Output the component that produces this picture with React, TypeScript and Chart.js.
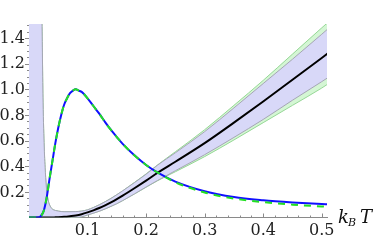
import React, { useEffect, useRef } from "react";
import { Chart, registerables } from "chart.js";
Chart.register(...registerables);

// Peak curves (blue solid, green dashed)
const xCurve = [0, 0.015, 0.02, 0.025, 0.03, 0.035, 0.04, 0.045, 0.05, 0.055, 0.06, 0.065, 0.07, 0.075, 0.08, 0.085, 0.09, 0.1, 0.11, 0.12, 0.13, 0.14, 0.15, 0.16, 0.18, 0.2, 0.22, 0.25, 0.3, 0.35, 0.4, 0.45, 0.5, 0.51];
const blueVals = [0, 0, 0.01, 0.05, 0.15, 0.3, 0.44, 0.58, 0.7, 0.8, 0.88, 0.93, 0.97, 0.99, 1.0, 0.99, 0.98, 0.93, 0.87, 0.81, 0.744, 0.683, 0.628, 0.575, 0.485, 0.41, 0.35, 0.28, 0.205, 0.16, 0.135, 0.118, 0.105, 0.103];
const greenVals = [0, 0, 0.01, 0.05, 0.15, 0.3, 0.44, 0.58, 0.7, 0.8, 0.88, 0.93, 0.97, 0.99, 1.0, 0.99, 0.98, 0.93, 0.87, 0.81, 0.744, 0.683, 0.628, 0.575, 0.485, 0.41, 0.35, 0.275, 0.195, 0.148, 0.12, 0.1, 0.086, 0.083];

// Rising curve (black) with its bands
const xBand = [0, 0.02, 0.022, 0.024, 0.026, 0.028, 0.03, 0.033, 0.036, 0.04, 0.045, 0.05, 0.06, 0.07, 0.08, 0.09, 0.1, 0.11, 0.12, 0.13, 0.14, 0.15, 0.16, 0.18, 0.2, 0.22, 0.25, 0.3, 0.35, 0.4, 0.45, 0.5, 0.51];
const blackVals = [0, 0, 0, 0, 0, 0, 0, 0, 0, 0, 0.001, 0.002, 0.005, 0.01, 0.016, 0.026, 0.04, 0.056, 0.074, 0.095, 0.118, 0.143, 0.17, 0.228, 0.288, 0.35, 0.435, 0.58, 0.74, 0.905, 1.075, 1.245, 1.28];
const innerUpper = [1.7, 1.7, 1.55, 0.9, 0.55, 0.35, 0.22, 0.13, 0.09, 0.065, 0.055, 0.05, 0.045, 0.045, 0.046, 0.05, 0.06, 0.078, 0.099, 0.123, 0.149, 0.178, 0.208, 0.272, 0.338, 0.41, 0.505, 0.67, 0.855, 1.045, 1.235, 1.43, 1.47];
const innerLower = [0, 0, 0, 0, 0, 0, 0, 0, 0, 0, 0, 0, 0, 0, 0, 0.005, 0.02, 0.034, 0.049, 0.067, 0.087, 0.108, 0.132, 0.184, 0.238, 0.29, 0.365, 0.49, 0.625, 0.765, 0.915, 1.06, 1.09];
const outerUpper = [1.7, 1.7, 1.55, 0.9, 0.55, 0.35, 0.22, 0.13, 0.09, 0.065, 0.055, 0.05, 0.045, 0.045, 0.046, 0.05, 0.06, 0.078, 0.099, 0.123, 0.149, 0.178, 0.208, 0.273, 0.34, 0.412, 0.513, 0.685, 0.875, 1.07, 1.275, 1.48, 1.52];
const outerLower = [0, 0, 0, 0, 0, 0, 0, 0, 0, 0, 0, 0, 0, 0, 0, 0.005, 0.02, 0.034, 0.049, 0.067, 0.087, 0.108, 0.132, 0.183, 0.236, 0.288, 0.357, 0.475, 0.605, 0.74, 0.875, 1.01, 1.04];

const xTickValues = [0.1, 0.2, 0.3, 0.4, 0.5];
const xTickLabels = ["0.1", "0.2", "0.3", "0.4", "0.5"];
const yTickValues = [0.2, 0.4, 0.6, 0.8, 1.0, 1.2, 1.4];
const yTickLabels = ["0.2", "0.4", "0.6", "0.8", "1.0", "1.2", "1.4"];

const X_MAX = 0.509;
const Y_MAX = 1.51;

const pts = (xs: number[], ys: number[]) => xs.map((x, i) => ({ x, y: ys[i] }));

const SERIF = '"DejaVu Serif"';

const inwardTicks = {
  id: "inwardTicks",
  beforeDatasetsDraw(chart: any) {
    const { ctx, chartArea, scales } = chart;
    const xs = scales.x;
    const ys = scales.y;
    ctx.save();
    ctx.strokeStyle = "#8a8a8a";
    ctx.lineWidth = 1;
    for (let i = 1; i * 0.02 <= X_MAX + 1e-9; i++) {
      const v = i * 0.02;
      const major = i % 5 === 0;
      const px = Math.round(xs.getPixelForValue(v)) + 0.5;
      ctx.beginPath();
      ctx.moveTo(px, chartArea.bottom);
      ctx.lineTo(px, chartArea.bottom - (major ? 4 : 2));
      ctx.stroke();
    }
    for (let i = 1; i * 0.05 <= Y_MAX + 1e-9; i++) {
      const v = i * 0.05;
      const major = i % 4 === 0;
      const py = Math.round(ys.getPixelForValue(v)) + 0.5;
      ctx.beginPath();
      ctx.moveTo(chartArea.left, py);
      ctx.lineTo(chartArea.left - (major ? 4 : 2), py);
      ctx.stroke();
    }
    ctx.restore();
  },
};

const labelsPlugin = {
  id: "labelsPlugin",
  afterDraw(chart: any) {
    const { ctx, chartArea, scales } = chart;
    ctx.save();
    ctx.fillStyle = "#222";
    ctx.font = `16px ${SERIF}`;
    ctx.textAlign = "right";
    ctx.textBaseline = "middle";
    yTickValues.forEach((v, i) => {
      ctx.fillText(yTickLabels[i], chartArea.left - 4, scales.y.getPixelForValue(v) + 0.5);
    });
    ctx.textAlign = "center";
    ctx.textBaseline = "alphabetic";
    xTickValues.forEach((v, i) => {
      ctx.fillText(xTickLabels[i], scales.x.getPixelForValue(v), chartArea.bottom + 17);
    });
    ctx.fillStyle = "#111";
    ctx.textAlign = "left";
    ctx.font = `italic 18px ${SERIF}`;
    ctx.fillText("k", 338, 223);
    ctx.font = `italic 11px ${SERIF}`;
    ctx.fillText("B", 348, 226);
    ctx.font = `italic 18px ${SERIF}`;
    ctx.fillText("T", 360, 223);
    ctx.restore();
  },
};

export default function App() {
  const ref = useRef<HTMLCanvasElement | null>(null);
  useEffect(() => {
    let chart: Chart | null = null;
    let cancelled = false;
    const build = () => {
      if (cancelled || !ref.current) return;
      const lineBase = {
        pointRadius: 0,
        pointHoverRadius: 0,
        cubicInterpolationMode: "monotone" as const,
      };
      chart = new Chart(ref.current, {
        type: "line",
        data: {
          datasets: [
            { ...lineBase, data: pts(xBand, outerUpper), borderColor: "rgb(150,215,150)", borderWidth: 1, backgroundColor: "rgb(212,246,212)", fill: 1, order: 10 },
            { ...lineBase, data: pts(xBand, outerLower), borderColor: "rgb(150,215,150)", borderWidth: 1, fill: false, order: 9 },
            { ...lineBase, data: pts(xBand, innerUpper), borderColor: "rgb(165,165,180)", borderWidth: 1, backgroundColor: "rgb(216,216,248)", fill: 3, order: 8 },
            { ...lineBase, data: pts(xBand, innerLower), borderColor: "rgb(165,165,180)", borderWidth: 1, fill: false, order: 7 },
            { ...lineBase, data: pts(xBand, blackVals), borderColor: "#000000", borderWidth: 2, fill: false, order: 3 },
            { ...lineBase, data: pts(xCurve, blueVals), borderColor: "#1010ff", borderWidth: 2, fill: false, order: 2 },
            { ...lineBase, data: pts(xCurve, greenVals), borderColor: "#22e022", borderWidth: 2, borderDash: [7, 6], fill: false, order: 1 },
          ],
        },
        options: {
          animation: false,
          responsive: false,
          maintainAspectRatio: false,
          events: [],
          layout: { padding: { left: 0, right: 47, top: 24, bottom: 0 } },
          plugins: {
            legend: { display: false },
            tooltip: { enabled: false },
            title: { display: false },
          },
          scales: {
            x: {
              type: "linear",
              min: 0,
              max: X_MAX,
              grid: { display: false, drawTicks: false },
              border: { display: true, color: "#8a8a8a", width: 1 },
              ticks: { display: false },
              afterFit: (scale: any) => {
                scale.height = 23.5;
              },
            },
            y: {
              type: "linear",
              min: 0,
              max: Y_MAX,
              grid: { display: false, drawTicks: false },
              border: { display: true, color: "#8a8a8a", width: 1 },
              ticks: { display: false },
              afterFit: (scale: any) => {
                scale.width = 29;
              },
            },
          },
        },
        plugins: [inwardTicks, labelsPlugin],
      });
    };
    const fontsApi: any = (document as any).fonts;
    if (fontsApi && fontsApi.load) {
      Promise.all([
        fontsApi.load('16px "DejaVu Serif"'),
        fontsApi.load('italic 18px "DejaVu Serif"'),
      ])
        .catch(() => null)
        .then(build);
    } else {
      build();
    }
    return () => {
      cancelled = true;
      if (chart) chart.destroy();
    };
  }, []);
  return (
    <div style={{ position: "fixed", left: 0, top: 0, width: 374, height: 241, background: "#fff" }}>
      <canvas ref={ref} width={374} height={241} style={{ display: "block", width: 374, height: 241 }} />
    </div>
  );
}
